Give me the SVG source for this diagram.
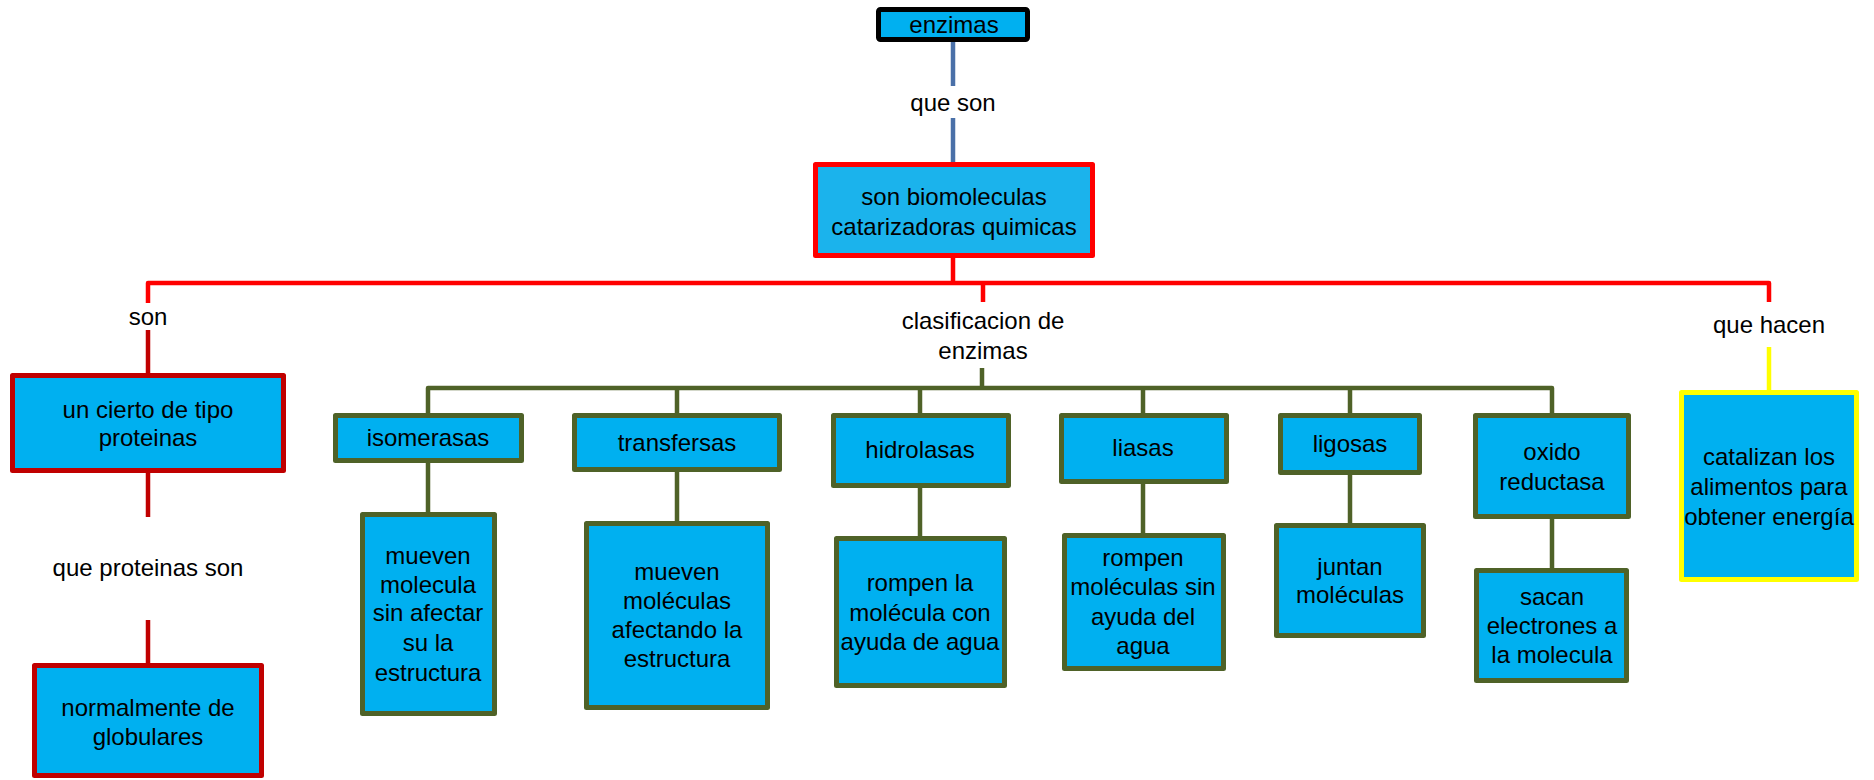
<svg xmlns="http://www.w3.org/2000/svg" width="1874" height="780" viewBox="0 0 1874 780">
<style>
text{font-family:"Liberation Sans",Arial,sans-serif;font-size:24px;fill:#000;text-anchor:middle}
.box{fill:#00B0F0;stroke-width:5;stroke-linejoin:round}
.ol{stroke:#4F6228}
.dr{stroke:#C00000}
.c{fill:none;stroke-width:4.5;stroke-linejoin:round}
</style>
<rect width="1874" height="780" fill="#fff"/>
<g id="connectors">
<path class="c" stroke="#4A70A8" d="M953,42V86M953,118V162"/>
<path class="c" stroke="#FF0000" d="M953,258V283M148,303V283H1769V302M983,283V302"/>
<path class="c" stroke="#C00000" d="M148,330V373M148,473V517M148,620V663"/>
<path class="c" stroke="#FFFF00" d="M1769,347V390"/>
<path class="c" stroke="#4F6228" d="M982,368V388M428,413V388H1552V413M677,388V413M920,388V413M1143,388V413M1350,388V413M428,463V512M677,472V521M920,488V536M1143,484V533M1350,475V523M1552,519V568"/>
</g>
<g id="n-enzimas"><rect class="box" x="878.5" y="9.5" width="149" height="30" stroke="#000" rx="2"/><text x="954" y="33">enzimas</text></g>
<g id="n-main"><rect class="box" x="815.5" y="164.5" width="277" height="91" stroke="#FF0000" style="fill:#1BB3EC"/><text x="954" y="205">son biomoleculas</text><text x="954" y="235">catarizadoras quimicas</text></g>
<g id="l-queson"><text x="953" y="111">que son</text></g>
<g id="l-son"><text x="148" y="325">son</text></g>
<g id="l-clas"><text x="983" y="329">clasificacion de</text><text x="983" y="359">enzimas</text></g>
<g id="l-quehacen"><text x="1769" y="333">que hacen</text></g>
<g id="l-queprot"><text x="148" y="576">que proteinas son</text></g>
<g id="n-cierto"><rect class="box dr" x="12.5" y="375.5" width="271" height="95"/><text x="148" y="418">un cierto de tipo</text><text x="148" y="446">proteinas</text></g>
<g id="n-globulares"><rect class="box dr" x="34.5" y="665.5" width="227" height="110"/><text x="148" y="716">normalmente de</text><text x="148" y="745">globulares</text></g>
<g id="n-catalizan"><rect class="box" x="1681.5" y="392.5" width="175" height="187" stroke="#FFFF00"/><text x="1769" y="465">catalizan los</text><text x="1769" y="495">alimentos para</text><text x="1769" y="525">obtener energía</text></g>
<g id="n-isomerasas"><rect class="box ol" x="335.5" y="415.5" width="186" height="45"/><text x="428" y="446">isomerasas</text></g>
<g id="n-mueven1"><rect class="box ol" x="362.5" y="514.5" width="132" height="199"/><text x="428" y="564">mueven</text><text x="428" y="593">molecula</text><text x="428" y="621">sin afectar</text><text x="428" y="651">su la</text><text x="428" y="681">estructura</text></g>
<g id="n-transfersas"><rect class="box ol" x="574.5" y="415.5" width="205" height="54"/><text x="677" y="451">transfersas</text></g>
<g id="n-mueven2"><rect class="box ol" x="586.5" y="523.5" width="181" height="184"/><text x="677" y="580">mueven</text><text x="677" y="609">moléculas</text><text x="677" y="638">afectando la</text><text x="677" y="667">estructura</text></g>
<g id="n-hidrolasas"><rect class="box ol" x="833.5" y="415.5" width="175" height="70"/><text x="920" y="458">hidrolasas</text></g>
<g id="n-rompen1"><rect class="box ol" x="836.5" y="538.5" width="168" height="147"/><text x="920" y="591">rompen la</text><text x="920" y="621">molécula con</text><text x="920" y="650">ayuda de agua</text></g>
<g id="n-liasas"><rect class="box ol" x="1061.5" y="415.5" width="165" height="66"/><text x="1143" y="456">liasas</text></g>
<g id="n-rompen2"><rect class="box ol" x="1064.5" y="535.5" width="159" height="133"/><text x="1143" y="566">rompen</text><text x="1143" y="595">moléculas sin</text><text x="1143" y="625">ayuda del</text><text x="1143" y="654">agua</text></g>
<g id="n-ligosas"><rect class="box ol" x="1280.5" y="415.5" width="139" height="57"/><text x="1350" y="452">ligosas</text></g>
<g id="n-juntan"><rect class="box ol" x="1276.5" y="525.5" width="147" height="110"/><text x="1350" y="575">juntan</text><text x="1350" y="603">moléculas</text></g>
<g id="n-oxido"><rect class="box ol" x="1475.5" y="415.5" width="153" height="101"/><text x="1552" y="460">oxido</text><text x="1552" y="490">reductasa</text></g>
<g id="n-sacan"><rect class="box ol" x="1476.5" y="570.5" width="150" height="110"/><text x="1552" y="605">sacan</text><text x="1552" y="634">electrones a</text><text x="1552" y="663">la molecula</text></g>
</svg>
